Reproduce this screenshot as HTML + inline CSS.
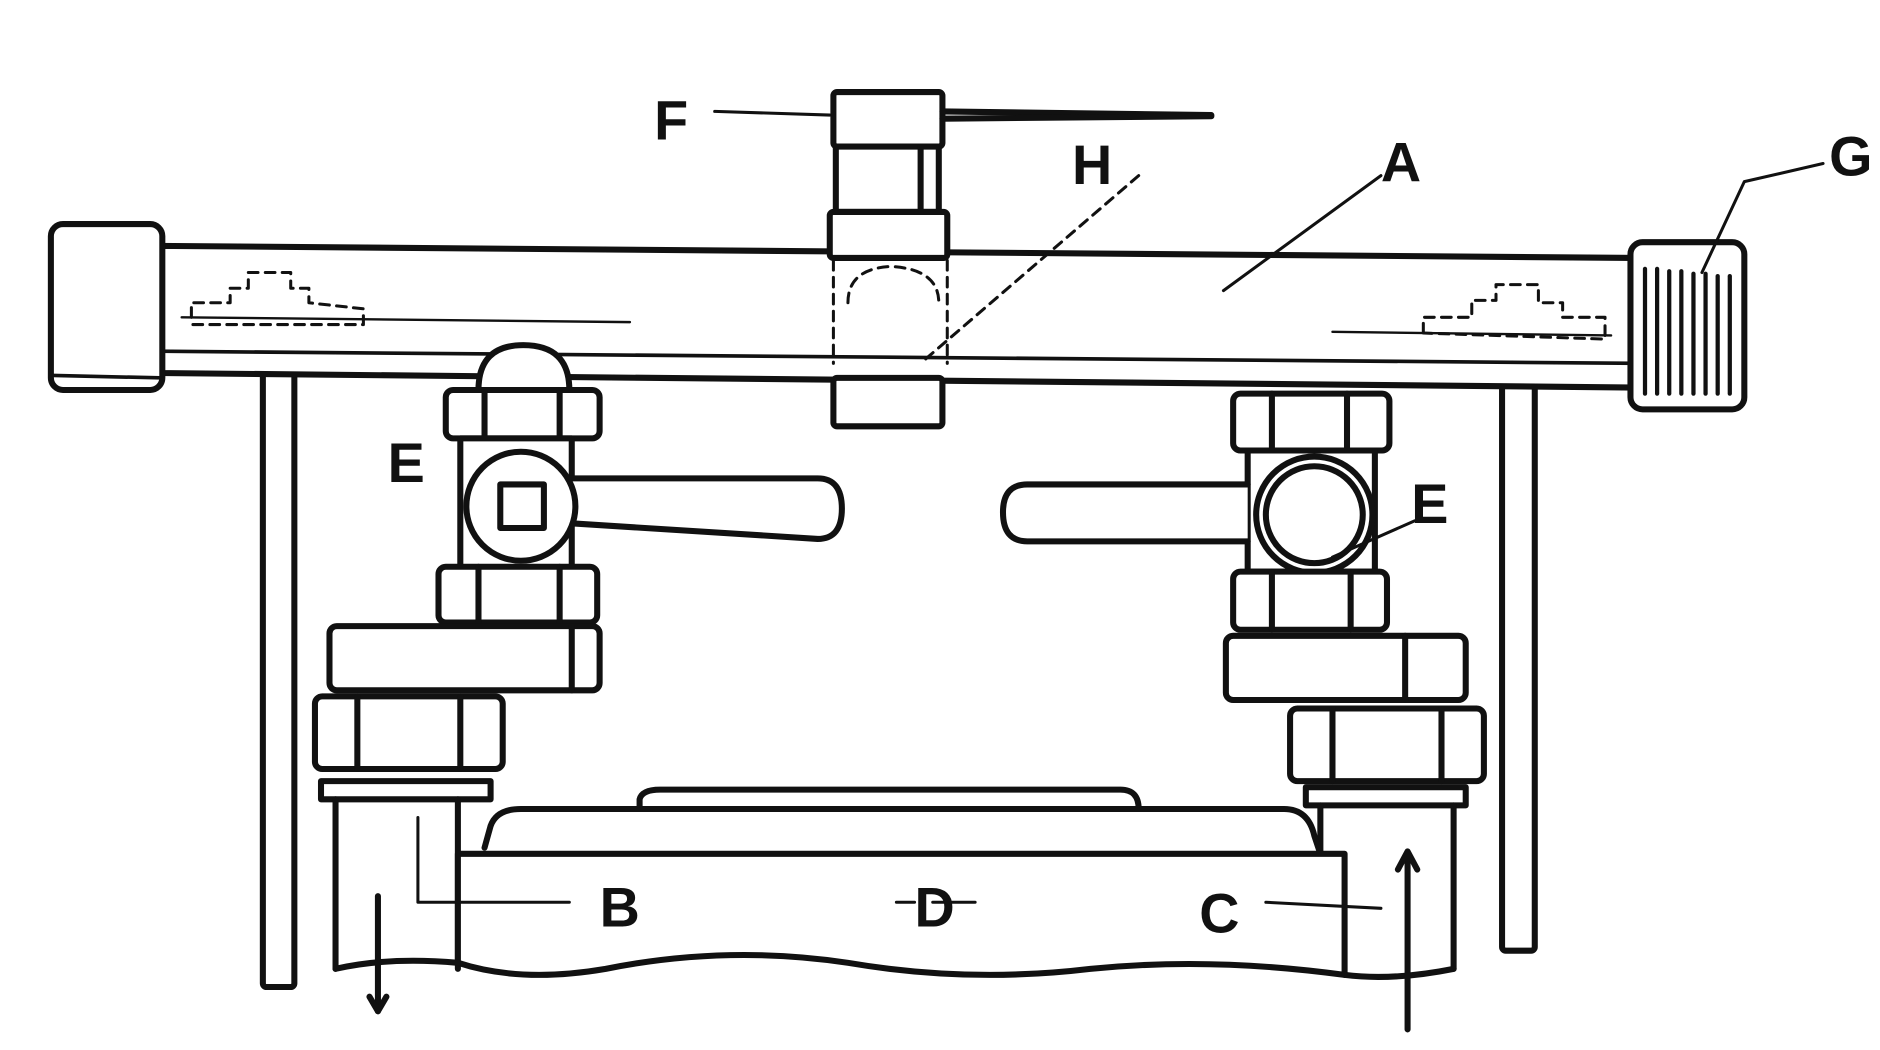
<!DOCTYPE html>
<html><head><style>html,body{margin:0;padding:0;background:#fff}svg{display:block}</style></head>
<body>
<svg width="1880" height="1050" viewBox="0 0 1552 867" preserveAspectRatio="none" xmlns="http://www.w3.org/2000/svg">
<rect width="1552" height="867" fill="#fff"/>
<g fill="none" stroke="#111" stroke-width="5" stroke-linejoin="round" stroke-linecap="round">
<rect x="217" y="305" width="26" height="510" rx="3" fill="#fff"/>
<rect x="1240" y="315" width="27" height="470" rx="3" fill="#fff"/>
<path d="M130 203 L1350 213 L1350 320 L130 308 Z" fill="#fff"/>
<line x1="130" y1="290" x2="1350" y2="300" stroke-width="3"/>
<rect x="42" y="185" width="92" height="137" rx="10" fill="#fff"/>
<line x1="44" y1="310" x2="132" y2="312" stroke-width="3"/>
<rect x="1346" y="200" width="94" height="138" rx="10" fill="#fff"/>
<g stroke-width="3.5"><line x1="1358" y1="222" x2="1358" y2="325"/><line x1="1368" y1="222" x2="1368" y2="325"/><line x1="1378" y1="224" x2="1378" y2="325"/><line x1="1388" y1="224" x2="1388" y2="325"/><line x1="1398" y1="226" x2="1398" y2="325"/><line x1="1408" y1="226" x2="1408" y2="325"/><line x1="1418" y1="228" x2="1418" y2="325"/><line x1="1428" y1="228" x2="1428" y2="325"/></g>
<g stroke-width="2.5" stroke-dasharray="8 6">
<path d="M158 262 L158 250 L190 250 L190 238 L205 238 L205 225 L240 225 L240 238 L255 238 L255 250 L300 255 L300 268 L158 268"/>
<path d="M1175 275 L1175 262 L1215 262 L1215 248 L1235 248 L1235 235 L1270 235 L1270 250 L1290 250 L1290 262 L1325 262 L1325 280 Z"/>
<path d="M688 215 L688 300 M782 215 L782 300"/>
<path d="M700 250 Q700 222 735 220 Q775 222 775 250"/>
<path d="M940 145 L760 300"/>
</g>
<line x1="150" y1="262" x2="520" y2="266" stroke-width="2"/>
<line x1="1100" y1="274" x2="1330" y2="277" stroke-width="2"/>
<rect x="688" y="76" width="90" height="45" rx="3" fill="#fff"/>
<line x1="778" y1="92" x2="1000" y2="95"/>
<line x1="778" y1="98" x2="1000" y2="96"/>
<rect x="690" y="121" width="85" height="54" fill="#fff"/>
<line x1="760" y1="121" x2="760" y2="175"/>
<rect x="685" y="175" width="97" height="38" rx="3" fill="#fff"/>
<rect x="688" y="312" width="90" height="40" rx="3" fill="#fff"/>
<path d="M395 322 Q395 285 432 285 Q470 285 470 322 Z" fill="#fff"/>
<rect x="368" y="322" width="127" height="40" rx="6" fill="#fff"/>
<line x1="400" y1="322" x2="400" y2="362"/><line x1="462" y1="322" x2="462" y2="362"/>
<rect x="380" y="362" width="92" height="108" fill="#fff"/>
<path d="M470 395 L675 395 Q695 395 695 420 Q695 445 675 445 L470 432" fill="#fff"/>
<circle cx="430" cy="418" r="45" fill="#fff"/>
<rect x="413" y="400" width="36" height="36"/>
<rect x="362" y="468" width="131" height="46" rx="6" fill="#fff"/>
<line x1="395" y1="468" x2="395" y2="514"/><line x1="462" y1="468" x2="462" y2="514"/>
<rect x="272" y="517" width="223" height="53" rx="6" fill="#fff"/>
<line x1="472" y1="517" x2="472" y2="570"/>
<rect x="260" y="575" width="155" height="60" rx="6" fill="#fff"/>
<line x1="295" y1="575" x2="295" y2="635"/><line x1="380" y1="575" x2="380" y2="635"/>
<rect x="265" y="645" width="140" height="15" fill="#fff"/>
<path d="M277 660 L277 800 M378 660 L378 800"/>
<rect x="1018" y="325" width="129" height="47" rx="6" fill="#fff"/>
<line x1="1050" y1="325" x2="1050" y2="372"/><line x1="1112" y1="325" x2="1112" y2="372"/>
<rect x="1030" y="372" width="105" height="100" fill="#fff"/>
<path d="M1030 400 L848 400 Q828 400 828 423 Q828 447 848 447 L1030 447" fill="#fff"/>
<circle cx="1085" cy="425" r="48" fill="#fff"/>
<circle cx="1085" cy="425" r="40"/>
<rect x="1018" y="472" width="127" height="48" rx="6" fill="#fff"/>
<line x1="1050" y1="472" x2="1050" y2="520"/><line x1="1115" y1="472" x2="1115" y2="520"/>
<rect x="1012" y="525" width="198" height="53" rx="6" fill="#fff"/>
<line x1="1160" y1="525" x2="1160" y2="578"/>
<rect x="1065" y="585" width="160" height="60" rx="6" fill="#fff"/>
<line x1="1100" y1="585" x2="1100" y2="645"/><line x1="1190" y1="585" x2="1190" y2="645"/>
<rect x="1078" y="650" width="132" height="15" fill="#fff"/>
<path d="M1090 665 L1090 800 M1200 665 L1200 800"/>
<path d="M528 668 L528 660 Q530 652 545 652 L925 652 Q940 652 940 668" fill="#fff"/>
<path d="M400 700 L405 682 Q410 668 430 668 L1060 668 Q1080 668 1085 690 L1090 705" fill="#fff"/>
<path d="M378 705 L1110 705 L1110 805 Q1000 790 900 800 Q800 812 700 795 Q600 780 500 800 Q430 812 378 795 Z" fill="#fff"/>
<path d="M277 800 Q320 790 378 795"/>
<path d="M1110 805 Q1150 810 1200 800"/>
<g stroke-width="2.5">
<path d="M590 92 L685 95"/>
<path d="M1140 145 L1010 240"/>
<path d="M1505 135 L1440 150 L1405 225"/>
<path d="M345 675 L345 745 L470 745"/>
<path d="M770 745 L805 745 M740 745 L755 745"/>
<path d="M1045 745 L1140 750"/>
<path d="M1168 430 L1100 460"/>
</g>
<line x1="312" y1="740" x2="312" y2="835"/>
<path d="M305 823 L312 835 L319 823"/>
<line x1="1162" y1="850" x2="1162" y2="705"/>
<path d="M1154 718 L1162 703 L1170 718"/>
</g>
<g font-family="Liberation Sans, sans-serif" font-size="46" font-weight="bold" fill="#111">
<text x="540" y="115">F</text>
<text x="885" y="152">H</text>
<text x="1140" y="150">A</text>
<text x="1510" y="145">G</text>
<text x="320" y="398">E</text>
<text x="1165" y="432">E</text>
<text x="495" y="765">B</text>
<text x="755" y="765">D</text>
<text x="990" y="770">C</text>
</g>
</svg>
</body></html>
